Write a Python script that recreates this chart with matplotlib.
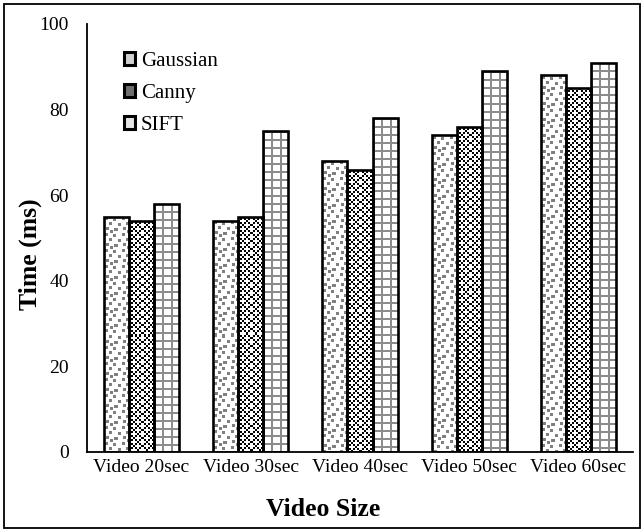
import numpy as np
import matplotlib
matplotlib.use('Agg')
import matplotlib.pyplot as plt
from matplotlib.patches import Patch, Rectangle

plt.rcParams['font.family'] = ['Liberation Serif', 'DejaVu Serif']

categories = ['Video 20sec', 'Video 30sec', 'Video 40sec', 'Video 50sec', 'Video 60sec']
series_names = ['Gaussian', 'Canny', 'SIFT']
gaussian = [55, 54, 68, 74, 88]
canny = [54, 55, 66, 76, 85]
sift = [58, 75, 78, 89, 91]
yticks = [0, 20, 40, 60, 80, 100]


# fill textures, one value per screen pixel (0 = black, 1 = white)
def confetti_tile():
  t = np.ones((16, 16))
  for r, c in [(1, 1), (2, 9), (6, 5), (7, 13), (11, 2), (12, 10), (14, 6)]:
    for dr in range(3):
      for dc in range(3):
        t[(r + dr) % 16, (c + dc) % 16] = 0.5
  return t

def checker_tile():
  t = np.ones((8, 8))
  for r in range(8):
    for c in range(8):
      if ((r // 2) + (c // 2)) % 2 == 0:
        t[r, c] = 0.0
  t[0:2, 0:2] = 1.0
  t[4:6, 4:6] = 1.0
  t[0:2, 4:6] = 0.0
  return t

def grid_tile():
  t = np.ones((8, 8))
  t[0:2, :] = 0.55
  t[:, 0:2] = 0.55
  return t

tiles = [confetti_tile(), checker_tile(), grid_tile()]


def fill_texture(ax, bar, tile):
  x0, y0 = bar.get_x(), bar.get_y()
  w, h = bar.get_width(), bar.get_height()
  (px0, py0), (px1, py1) = ax.transData.transform([(x0, y0), (x0 + w, y0 + h)])
  nx, ny = int(round(px1 - px0)), int(round(py1 - py0))
  reps = (ny // tile.shape[0] + 1, nx // tile.shape[1] + 1)
  img = np.tile(tile, reps)[:ny, :nx]
  im = ax.imshow(img, cmap='gray', vmin=0, vmax=1, extent=(x0, x0 + w, y0, y0 + h),
                 origin='upper', interpolation='nearest', aspect='auto', zorder=1)
  im.set_clip_path(bar)


fig = plt.figure(figsize=(6.43, 5.31), dpi=100)
ax = fig.add_axes([87 / 643, 79 / 531, 546 / 643, 428 / 531])
ax.set_xlim(-0.5, len(categories) - 0.5)
ax.set_ylim(0, 100)

x = np.arange(len(categories))
width = 0.229
all_values = [gaussian, canny, sift]
for j, vals in enumerate(all_values):
  bars = ax.bar(x + (j - 1) * width, vals, width, facecolor='none',
                edgecolor='black', linewidth=1.9, zorder=2)
  for b in bars:
    fill_texture(ax, b, tiles[j])

ax.set_xlim(-0.5, len(categories) - 0.5)
ax.set_ylim(0, 100)

for s in ['top', 'right']:
  ax.spines[s].set_visible(False)
for s in ['left', 'bottom']:
  ax.spines[s].set_linewidth(1.3)
ax.set_xticks(x)
ax.set_xticklabels(categories, fontsize=14)
ax.set_yticks(yticks)
ax.set_yticklabels([str(v) for v in yticks], fontsize=14)
ax.tick_params(axis='x', length=0, pad=5)
ax.tick_params(axis='y', length=0, pad=13)

fig.text(323 / 643, 1 - 510 / 531, 'Video Size', ha='center', va='center',
         fontsize=18.5, fontweight='bold')
fig.text(30 / 643, 1 - 254 / 531, 'Time (ms)', ha='center', va='center',
         rotation=90, fontsize=18.5, fontweight='bold')

legend_faces = ['#d0d0d0', '#6e6e6e', '#e4e4e4']
handles = [Patch(facecolor=fc, edgecolor='black', linewidth=2.2) for fc in legend_faces]
ax.legend(handles, series_names, loc='upper left', bbox_to_anchor=(124 / 643, 1 - 52 / 531),
          bbox_transform=fig.transFigure, frameon=False, fontsize=15,
          handlelength=0.55, handleheight=0.55, handletextpad=0.25,
          labelspacing=0.62, borderaxespad=0, borderpad=0)

# border round the whole figure
fig.patches.append(Rectangle((4 / 643, 3 / 531), 636 / 643, 524 / 531, transform=fig.transFigure,
                             fill=False, edgecolor='black', linewidth=1.3))

fig.savefig('out.png', dpi=100)
